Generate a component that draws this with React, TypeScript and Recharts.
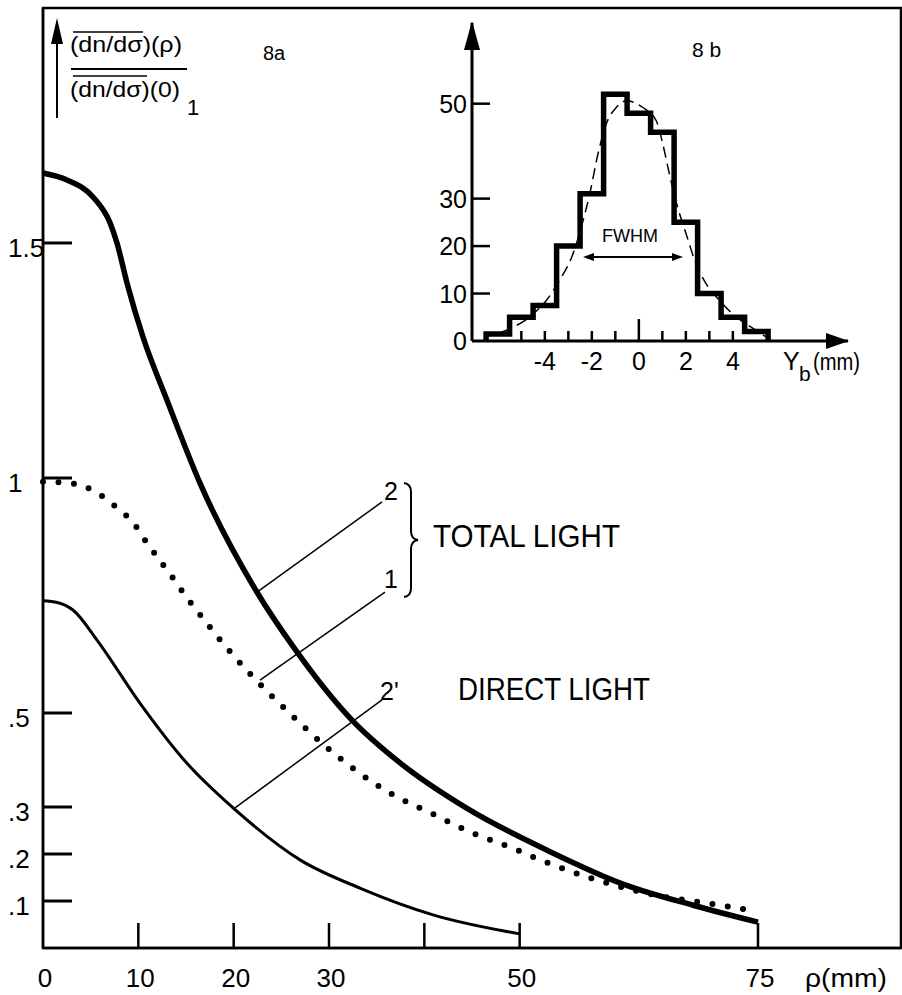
import React from 'react';
import { LineChart, Line, XAxis, YAxis, ReferenceLine, ReferenceArea, Customized } from 'recharts';

// ---- fig 8a : normalised light yield vs distance rho (mm) ----
const rhoTotal2 = [0, 2.52, 5.24, 7.03, 7.76, 8.81, 10.49, 13, 16.47, 22.45, 26.43, 32.41, 37.45, 44.48, 53.18, 60.84, 68.18, 75];
const yieldTotal2 = [1.649, 1.634, 1.598, 1.543, 1.5, 1.415, 1.3, 1.166, 0.989, 0.757, 0.636, 0.485, 0.394, 0.297, 0.205, 0.136, 0.091, 0.055];

const rhoTotal1 = [0, 3.2, 5.7, 7.9, 9.5, 10.9, 13.6, 15.1, 16.8, 18.4, 22.1, 25.6, 29.3, 32.8, 36.8, 40.7, 44.9, 49.3, 52.2, 58.2, 64.1, 70.4, 74.6];
const yieldTotal1 = [0.992, 0.988, 0.968, 0.934, 0.904, 0.862, 0.788, 0.745, 0.701, 0.66, 0.575, 0.505, 0.435, 0.378, 0.325, 0.287, 0.246, 0.212, 0.187, 0.144, 0.113, 0.093, 0.079];

const rhoDirect2 = [0, 1.5, 3.2, 5.7, 10.2, 15.1, 20, 27, 33.3, 41, 50];
const yieldDirect2 = [0.739, 0.735, 0.718, 0.654, 0.52, 0.393, 0.297, 0.187, 0.127, 0.07, 0.03];

const mainXTicks = [0, 10, 20, 30, 40, 50, 75];
const mainXLabels = [0, 10, 20, 30, 50, 75];
const mainYTicks = [0.1, 0.2, 0.3, 0.5, 1, 1.5];

// ---- fig 8b : beam profile histogram, Y_b (mm) ----
const binEdges = [-6.5, -5.5, -4.5, -3.5, -2.5, -1.5, -0.5, 0.5, 1.5, 2.5, 3.5, 4.5, 5.5];
const binCounts = [1.5, 5, 7.5, 20, 31, 52, 48, 44, 25, 10, 5, 2];

const fitX = [-6.55, -5.63, -4.64, -3.93, -3.37, -2.8, -2.45, -2.09, -1.74, -1.39, -0.96, -0.54, 0.17, 0.74, 1.02, 1.3, 1.65, 2.01, 2.43, 2.86, 3.42, 4.13, 4.98, 5.4];
const fitY = [0.9, 2.3, 5.1, 8.6, 12.8, 18.4, 24, 31, 39.4, 45.7, 49.2, 50.6, 49.2, 46.4, 41.5, 35.2, 28.2, 22.6, 16.3, 12.1, 8.6, 5.1, 2.3, 0.9];

const insetXTicks = [-5, -4, -3, -2, -1, 0, 1, 2, 3, 4];
const insetXLabels = [-4, -2, 0, 2, 4];
const insetYTicks = [0, 10, 20, 30, 50];

const FONT = '"Liberation Sans", "DejaVu Sans", sans-serif';

const rows = (xs: number[], ys: number[]) => xs.map((x, i) => ({ x, y: ys[i] }));

const histRows = [{ x: binEdges[0], y: 0 }]
  .concat(binCounts.map((c, i) => ({ x: binEdges[i], y: c })))
  .concat([{ x: binEdges[binEdges.length - 1], y: 0 }]);

const Txt = ({ x, y, w, size = 24, anchor = 'start', children }: any) => (
  <text x={x} y={y} fontSize={size} textAnchor={anchor} fontFamily={FONT} fill="#000"
    textLength={w} lengthAdjust={w ? 'spacingAndGlyphs' : undefined}>{children}</text>
);

const fmtY = (v: number) => String(v).replace(/^0\./, '.');

const MainXTick = ({ x, y, payload }: any) => {
  const v = payload.value;
  return (
    <g>
      {v !== 0 && <line x1={x} y1={y} x2={x} y2={y - 25} stroke="#000" strokeWidth={2.5} />}
      {mainXLabels.includes(v) && <Txt x={x + 2} y={y + 39} anchor="middle" size={26}>{v}</Txt>}
    </g>
  );
};

const MainYTick = ({ x, y, payload }: any) => {
  const s = fmtY(payload.value);
  return (
    <g>
      <line x1={x} y1={y} x2={x + 29} y2={y} stroke="#000" strokeWidth={3} />
      <Txt x={8} y={y + 14} size={26}>{s}</Txt>
    </g>
  );
};

const InsetXTick = ({ x, y, payload }: any) => {
  const v = payload.value;
  return (
    <g>
      <line x1={x} y1={y} x2={x} y2={y - (v === 0 ? 22 : 10)} stroke="#000" strokeWidth={2.5} />
      {insetXLabels.includes(v) && <Txt x={x} y={y + 29} anchor="middle" size={25}>{String(v)}</Txt>}
    </g>
  );
};

const InsetYTick = ({ x, y, payload }: any) => {
  const v = payload.value;
  return (
    <g>
      {v !== 0 && <line x1={x} y1={y} x2={x + 18} y2={y} stroke="#000" strokeWidth={2.5} />}
      <Txt x={x - 5} y={y + 9} anchor="end" size={25}>{String(v)}</Txt>
    </g>
  );
};

const MainNotes = () => (
  <g>
    {/* ordinate arrow and quantity */}
    <line x1={57} y1={118} x2={57} y2={40} stroke="#000" strokeWidth={2} />
    <polygon points="57,18 51,44 63,44" fill="#000" />
    <Txt x={70} y={52} size={22} w={112}>(dn/dσ)(ρ)</Txt>
    <line x1={73} y1={32} x2={143} y2={32} stroke="#000" strokeWidth={1.5} />
    <line x1={71} y1={69} x2={187} y2={69} stroke="#000" strokeWidth={2} />
    <line x1={73} y1={76} x2={147} y2={76} stroke="#000" strokeWidth={1.5} />
    <Txt x={70} y={97} size={22} w={110}>(dn/dσ)(0)</Txt>
    <Txt x={187} y={115} size={22}>1</Txt>
    <Txt x={263} y={60} size={20}>8a</Txt>

    {/* curve labels */}
    <Txt x={384} y={500} size={25}>2</Txt>
    <Txt x={384} y={588} size={25}>1</Txt>
    <Txt x={380} y={700} size={25}>2'</Txt>
    <path d="M404 483 Q411 484 411 492 L411 531 Q411 539 418 540 Q411 541 411 549 L411 588 Q411 596 404 597"
      fill="none" stroke="#000" strokeWidth={2} />
    <Txt x={433} y={547} size={31} w={187}>TOTAL LIGHT</Txt>
    <Txt x={458} y={700} size={31} w={192}>DIRECT LIGHT</Txt>

    {/* abscissa title */}
    <Txt x={805} y={987} size={26} w={82}>ρ(mm)</Txt>
  </g>
);

const InsetNotes = () => (
  <g>
    <polygon points="472,21 464,50 480,50" fill="#000" />
    <polygon points="849,341 826,333 826,349" fill="#000" />
    <Txt x={692} y={57} size={21}>8 b</Txt>
    <Txt x={602} y={242} size={19} w={56}>FWHM</Txt>
    <line x1={586} y1={257} x2={680} y2={257} stroke="#000" strokeWidth={2} />
    <polygon points="583,257 594,253 594,261" fill="#000" />
    <polygon points="683,257 672,253 672,261" fill="#000" />
    <Txt x={783} y={370} size={25}>Y</Txt>
    <Txt x={799} y={381} size={21}>b</Txt>
    <Txt x={813} y={370} size={23} w={47}>(mm)</Txt>
  </g>
);

export default function App() {
  return (
    <div style={{ position: 'relative', width: 902, height: 995, background: '#fff', fontFamily: FONT }}>
      <style>{'body{margin:0}'}</style>

      <div style={{ position: 'absolute', left: 0, top: 0 }}>
        <LineChart width={902} height={995} margin={{ top: 8, right: 1, bottom: 0, left: 0 }}>
          <XAxis type="number" dataKey="x" domain={[0, 90]} ticks={mainXTicks} interval={0}
            height={47} tickSize={0} tickMargin={0} tick={MainXTick}
            axisLine={{ stroke: '#000', strokeWidth: 2.5 }} />
          <YAxis type="number" domain={[0, 2]} ticks={mainYTicks} interval={0}
            width={43} tickSize={0} tickMargin={0} tick={MainYTick}
            axisLine={{ stroke: '#000', strokeWidth: 2.5 }} />
          <ReferenceArea x1={0} x2={90} y1={0} y2={2} fill="none" fillOpacity={0} stroke="#000" strokeWidth={2.5} />

          {/* leader lines to the curve labels */}
          <ReferenceLine segment={[{ x: 22.45, y: 0.757 }, { x: 35.56, y: 0.949 }]} stroke="#000" strokeWidth={1.5} />
          <ReferenceLine segment={[{ x: 22.76, y: 0.57 }, { x: 35.87, y: 0.757 }]} stroke="#000" strokeWidth={1.5} />
          <ReferenceLine segment={[{ x: 20.14, y: 0.298 }, { x: 35.56, y: 0.528 }]} stroke="#000" strokeWidth={1.5} />

          <Line data={rows(rhoDirect2, yieldDirect2)} dataKey="y" type="monotone" stroke="#000"
            strokeWidth={3} dot={false} isAnimationActive={false} />
          <Line data={rows(rhoTotal1, yieldTotal1)} dataKey="y" type="monotone" stroke="#000"
            strokeWidth={6} strokeDasharray="0 15.5" strokeLinecap="round" dot={false} isAnimationActive={false} />
          <Line data={rows(rhoTotal2, yieldTotal2)} dataKey="y" type="monotone" stroke="#000"
            strokeWidth={5.5} dot={false} isAnimationActive={false} />
          <Customized component={MainNotes} />
        </LineChart>
      </div>

      <div style={{ position: 'absolute', left: 0, top: 0 }}>
        <LineChart width={902} height={400} margin={{ top: 23, right: 54, bottom: 0, left: 430 }}>
          <XAxis type="number" dataKey="x" domain={[-7.1, 8.9]} ticks={insetXTicks} interval={0}
            height={59} tickSize={0} tickMargin={0} tick={InsetXTick}
            axisLine={{ stroke: '#000', strokeWidth: 3 }} />
          <YAxis type="number" domain={[0, 67]} ticks={insetYTicks} interval={0}
            width={42} tickSize={0} tickMargin={0} tick={InsetYTick}
            axisLine={{ stroke: '#000', strokeWidth: 3 }} />
          <Line data={rows(fitX, fitY)} dataKey="y" type="monotone" stroke="#000" strokeWidth={1.5}
            strokeDasharray="11 6" dot={false} isAnimationActive={false} />
          <Line data={histRows} dataKey="y" type="stepAfter" stroke="#000" strokeWidth={5.5}
            strokeLinejoin="miter" dot={false} isAnimationActive={false} />
          <Customized component={InsetNotes} />
        </LineChart>
      </div>
    </div>
  );
}
